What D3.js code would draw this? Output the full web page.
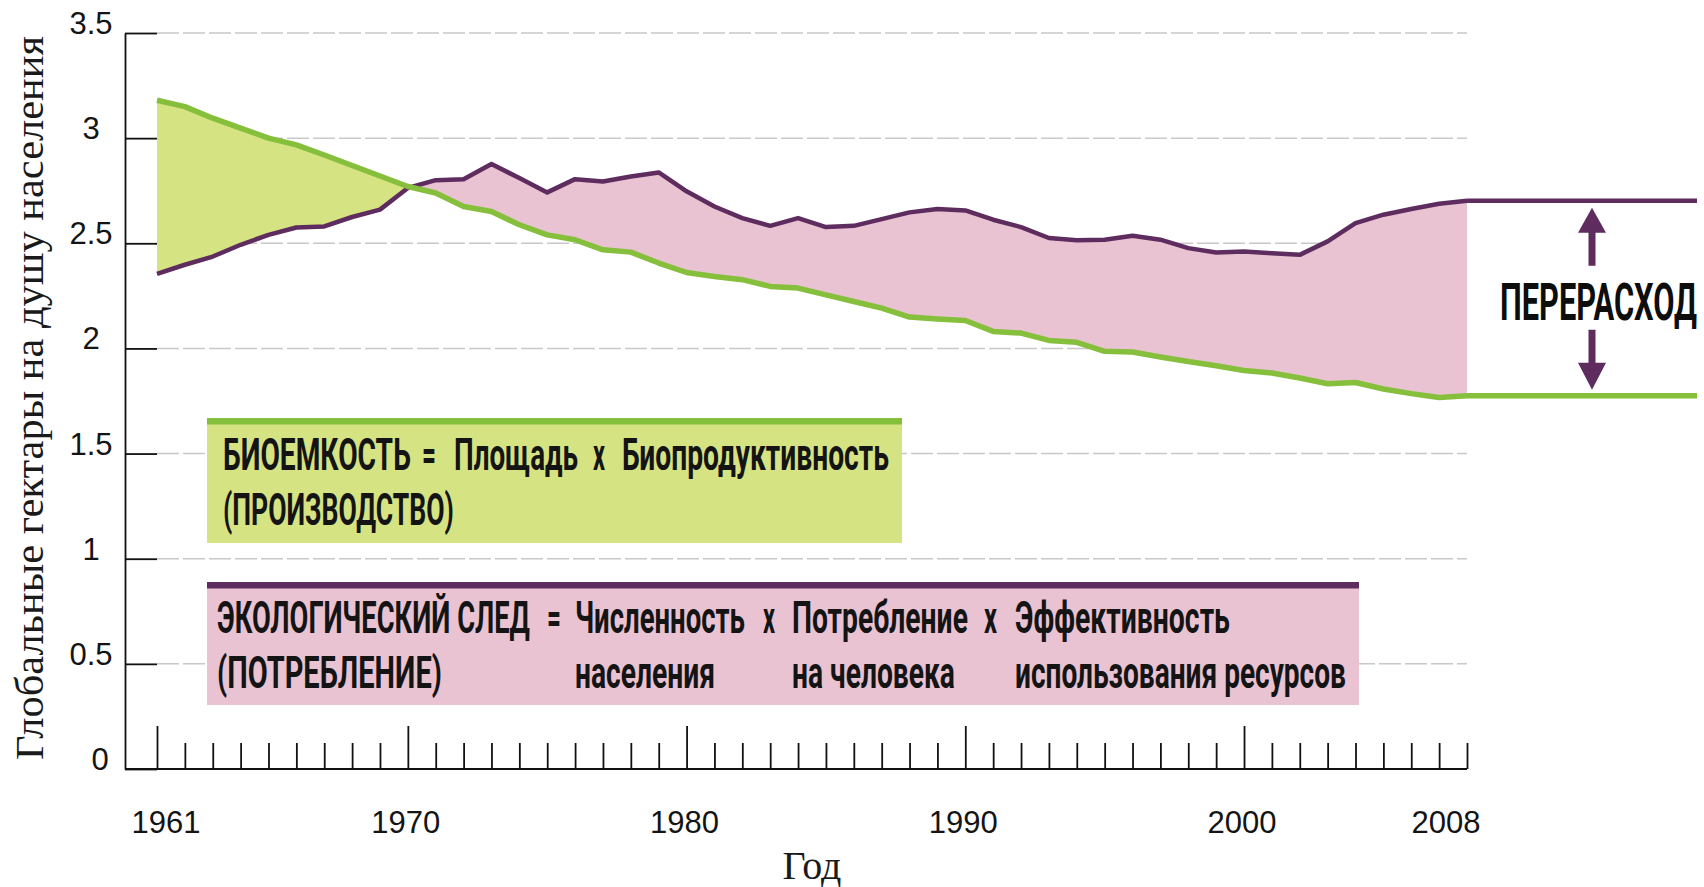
<!DOCTYPE html>
<meta charset="utf-8">
<style>
body { margin: 0; background: #fff; }
.grid line { stroke: #c8c8c8; stroke-width: 1.5px; stroke-dasharray: 22,4; }
.axis path, .axis line { stroke: #111; stroke-width: 1.8px; fill: none; }
.tick-label { font: 31px "Liberation Sans", Arial, sans-serif; fill: #141414; }
.box-text { font-family: Roboto, sans-serif; font-weight: 700; font-size: 44px; fill: #141414; }
.title { font-family: "Liberation Serif", "Times New Roman", serif; fill: #1a1a1a; }
</style>
<body>
<svg width="1704" height="887"></svg>
<script src="https://d3js.org/d3.v7.min.js"></script>
<script>
// years 1961-2008
var years = [1961, 1962, 1963, 1964, 1965, 1966, 1967, 1968, 1969, 1970,
             1971, 1972, 1973, 1974, 1975, 1976, 1977, 1978, 1979, 1980,
             1981, 1982, 1983, 1984, 1985, 1986, 1987, 1988, 1989, 1990,
             1991, 1992, 1993, 1994, 1995, 1996, 1997, 1998, 1999, 2000,
             2001, 2002, 2003, 2004, 2005, 2006, 2007, 2008];

// ecological footprint, gha per person (purple)
var footprint = [2.355, 2.398, 2.437, 2.493, 2.540, 2.575, 2.580, 2.625, 2.660, 2.763,
                 2.800, 2.805, 2.877, 2.810, 2.742, 2.805, 2.794, 2.818, 2.837, 2.747,
                 2.675, 2.620, 2.583, 2.620, 2.577, 2.583, 2.615, 2.647, 2.663, 2.656,
                 2.612, 2.577, 2.525, 2.514, 2.517, 2.536, 2.517, 2.477, 2.456, 2.461,
                 2.453, 2.445, 2.509, 2.596, 2.636, 2.663, 2.688, 2.702];

// biocapacity, gha per person (green)
var biocapacity = [3.180, 3.150, 3.095, 3.048, 3.000, 2.968, 2.920, 2.870, 2.820, 2.770,
                   2.739, 2.675, 2.651, 2.588, 2.540, 2.517, 2.469, 2.458, 2.406, 2.361,
                   2.342, 2.327, 2.295, 2.287, 2.255, 2.223, 2.192, 2.149, 2.140, 2.133,
                   2.081, 2.073, 2.038, 2.029, 1.986, 1.983, 1.959, 1.938, 1.918, 1.895,
                   1.883, 1.859, 1.832, 1.838, 1.807, 1.785, 1.767, 1.775];

var yTicks = [0, 0.5, 1, 1.5, 2, 2.5, 3, 3.5];
var yTickLabels = ["0", "0.5", "1", "1.5", "2", "2.5", "3", "3.5"];
var majorYears = [1961, 1970, 1980, 1990, 2000];
var xLabelYears = [1961, 1970, 1980, 1990, 2000, 2008];

var bioTextTop = ["БИОЕМКОСТЬ", "=", "Площадь", "х", "Биопродуктивность"];
var bioTextBottom = ["(ПРОИЗВОДСТВО)"];
var fpTextTop = ["ЭКОЛОГИЧЕСКИЙ СЛЕД", "=", "Численность", "х", "Потребление", "х", "Эффективность"];
var fpTextBottom = ["(ПОТРЕБЛЕНИЕ)", "населения", "на человека", "использования ресурсов"];
var overshootLabel = "ПЕРЕРАСХОД";
var yTitle = "Глобальные гектары на душу населения";
var xTitle = "Год";

var green = "#86bf3b", greenFill = "#d6e383",
    purple = "#5e2c5e", pinkFill = "#e9c3d2";

var svg = d3.select("svg");
var x = d3.scaleLinear().domain([1961, 2008]).range([157, 1467]);
var y = d3.scaleLinear().domain([0, 3.5]).range([769, 33]);

var data = years.map(function(yr, i) {
  return {year: yr, fp: footprint[i], bio: biocapacity[i]};
});

// squeeze a text horizontally into [x0, x1] (condensed look)
function fitText(sel, x0, x1, baseline) {
  var w = sel.node().getComputedTextLength();
  sel.attr("transform", "translate(" + x0 + "," + baseline + ") scale(" + ((x1 - x0) / w) + ",1)");
  return sel;
}

// dashed grid
svg.append("g")
    .attr("class", "grid")
  .selectAll("line")
  .data(yTicks.filter(function(d) { return d > 0; }))
  .join("line")
    .attr("x1", x(1961)).attr("x2", x(2008))
    .attr("y1", function(d) { return y(d); })
    .attr("y2", function(d) { return y(d); });

// difference areas
var defs = svg.append("defs");
var X = function(d) { return x(d.year); };
defs.append("clipPath").attr("id", "above-bio").append("path")
    .attr("d", d3.area().x(X).y0(0).y1(function(d) { return y(d.bio); })(data));
defs.append("clipPath").attr("id", "below-bio").append("path")
    .attr("d", d3.area().x(X).y0(887).y1(function(d) { return y(d.bio); })(data));

var between = d3.area().x(X)
    .y0(function(d) { return y(d.bio); })
    .y1(function(d) { return y(d.fp); });

svg.append("path").datum(data)
    .attr("fill", pinkFill).attr("clip-path", "url(#above-bio)").attr("d", between);
svg.append("path").datum(data)
    .attr("fill", greenFill).attr("clip-path", "url(#below-bio)").attr("d", between);

// lines + flat extensions after 2008
var last = data[data.length - 1];
var extEnd = 1697;

svg.append("path").datum(data)
    .attr("fill", "none").attr("stroke", purple).attr("stroke-width", 4.5)
    .attr("stroke-linejoin", "round")
    .attr("d", d3.line().x(X).y(function(d) { return y(d.fp); }));
svg.append("line")
    .attr("x1", x(last.year)).attr("x2", extEnd)
    .attr("y1", y(last.fp)).attr("y2", y(last.fp))
    .attr("stroke", purple).attr("stroke-width", 4.5);

svg.append("path").datum(data)
    .attr("fill", "none").attr("stroke", green).attr("stroke-width", 5.5)
    .attr("stroke-linejoin", "round")
    .attr("d", d3.line().x(X).y(function(d) { return y(d.bio); }));
svg.append("line")
    .attr("x1", x(last.year)).attr("x2", extEnd)
    .attr("y1", y(last.bio)).attr("y2", y(last.bio))
    .attr("stroke", green).attr("stroke-width", 5.5);

// overshoot arrows
var ax = 1592, yTop = y(last.fp), yBot = y(last.bio);
svg.append("path").attr("fill", purple)
    .attr("d", "M" + ax + "," + (yTop + 7) +
               "L" + (ax + 14) + "," + (yTop + 32) +
               "H" + (ax + 3.5) + "V" + (yTop + 65) +
               "H" + (ax - 3.5) + "V" + (yTop + 32) +
               "H" + (ax - 14) + "Z");
svg.append("path").attr("fill", purple)
    .attr("d", "M" + ax + "," + (yBot - 6) +
               "L" + (ax + 14) + "," + (yBot - 33) +
               "H" + (ax + 3.5) + "V" + (yBot - 66) +
               "H" + (ax - 3.5) + "V" + (yBot - 33) +
               "H" + (ax - 14) + "Z");
fitText(svg.append("text")
    .attr("class", "box-text")
    .style("font-size", "51px").style("fill", "#0d0d0d")
    .text(overshootLabel), 1500, 1697, 320);

// y axis
svg.append("g")
    .attr("class", "axis")
    .attr("transform", "translate(125,0)")
    .call(d3.axisRight(y).tickValues(yTicks).tickSize(32).tickSizeOuter(0).tickFormat(""));
svg.append("g").selectAll("text")
  .data(yTicks)
  .join("text")
    .attr("class", "tick-label")
    .attr("text-anchor", "middle")
    .attr("x", function(d) { return d === 0 ? 100 : 91; })
    .attr("y", function(d) { return y(d) + 1; })
    .text(function(d, i) { return yTickLabels[i]; });

// x axis
svg.append("line")
    .attr("x1", 125).attr("x2", x(2008))
    .attr("y1", y(0)).attr("y2", y(0))
    .attr("stroke", "#111").attr("stroke-width", 1.8);
svg.append("g")
    .attr("class", "axis")
    .attr("transform", "translate(0," + y(0) + ")")
    .call(d3.axisTop(x)
      .tickValues(years.filter(function(d) { return majorYears.indexOf(d) < 0; }))
      .tickSize(26).tickSizeOuter(0).tickFormat(""))
    .call(function(g) { g.select(".domain").remove(); });
svg.append("g")
    .attr("class", "axis")
    .attr("transform", "translate(0," + y(0) + ")")
    .call(d3.axisTop(x).tickValues(majorYears).tickSize(43).tickSizeOuter(0).tickFormat(""))
    .call(function(g) { g.select(".domain").remove(); });

svg.append("g").selectAll("text")
  .data(xLabelYears)
  .join("text")
    .attr("class", "tick-label")
    .attr("text-anchor", "middle")
    .attr("x", function(d, i) {
      if (i === 0) return x(d) + 9;
      if (i === xLabelYears.length - 1) return x(d) - 21;
      return x(d) - 2;
    })
    .attr("y", 833)
    .text(function(d) { return d; });

// axis titles
svg.append("text")
    .attr("class", "title")
    .attr("text-anchor", "middle")
    .attr("transform", "translate(43,398) rotate(-90)")
    .style("font-size", "40px")
    .attr("textLength", 724).attr("lengthAdjust", "spacingAndGlyphs")
    .text(yTitle);
svg.append("text")
    .attr("class", "title")
    .attr("text-anchor", "middle")
    .attr("x", 812).attr("y", 879)
    .style("font-size", "40px")
    .text(xTitle);

// formula boxes
function box(x0, x1, y0, y1, fill, bar) {
  svg.append("rect").attr("x", x0).attr("y", y0)
      .attr("width", x1 - x0).attr("height", y1 - y0).attr("fill", fill);
  svg.append("rect").attr("x", x0).attr("y", y0)
      .attr("width", x1 - x0).attr("height", 6.5).attr("fill", bar);
}
function words(list, spans, baseline) {
  list.forEach(function(t, i) {
    fitText(svg.append("text").attr("class", "box-text").text(t),
            spans[i][0], spans[i][1], baseline);
  });
}

box(207, 902, 418, 543, greenFill, green);
words(bioTextTop, [[223, 411], [422, 436], [454, 578], [593, 605], [622, 889]], 470);
words(bioTextBottom, [[223, 454]], 525);

box(207, 1359, 582, 705, pinkFill, purple);
words(fpTextTop, [[217, 530], [547, 561], [575, 745], [763, 775], [792, 968], [984, 997], [1015, 1230]], 633);
words(fpTextBottom, [[217, 442], [575, 715], [792, 955], [1015, 1346]], 688);
</script>
